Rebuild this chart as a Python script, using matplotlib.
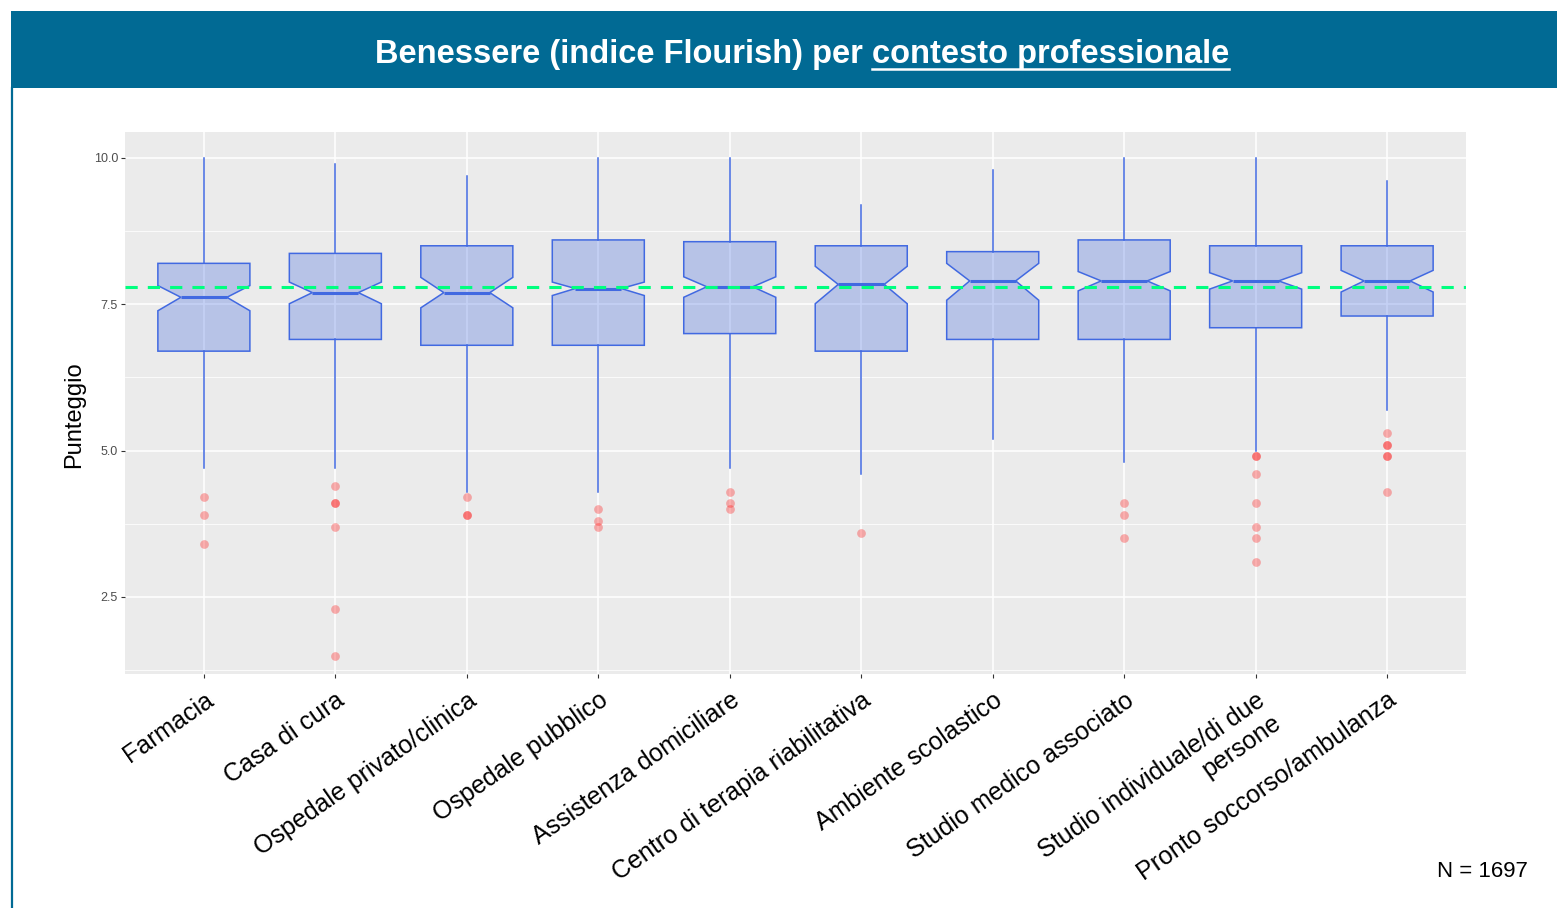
import matplotlib
matplotlib.use("Agg")
import numpy as np
from matplotlib import pyplot as plt
from matplotlib.patches import Rectangle
from matplotlib.lines import Line2D

plt.rcParams['font.family'] = ['Liberation Sans', 'DejaVu Sans']

# values
categories = ["Farmacia", "Casa di cura", "Ospedale privato/clinica", "Ospedale pubblico",
              "Assistenza domiciliare", "Centro di terapia riabilitativa", "Ambiente scolastico",
              "Studio medico associato", "Studio individuale/di due\npersone",
              "Pronto soccorso/ambulanza"]
whishi = [10.0, 9.9, 9.7, 10.0, 10.0, 9.2, 9.8, 10.0, 10.0, 9.6]
q3 = [8.2, 8.37, 8.5, 8.6, 8.57, 8.5, 8.4, 8.6, 8.5, 8.5]
med = [7.62, 7.7, 7.7, 7.77, 7.8, 7.84, 7.9, 7.9, 7.9, 7.9]
q1 = [6.7, 6.9, 6.8, 6.8, 7.0, 6.7, 6.9, 6.9, 7.1, 7.3]
whislo = [4.7, 4.7, 4.3, 4.3, 4.7, 4.6, 5.2, 4.8, 5.0, 5.7]
notch_lo = [7.39, 7.51, 7.44, 7.65, 7.62, 7.51, 7.57, 7.73, 7.76, 7.71]
notch_hi = [7.82, 7.88, 7.96, 7.88, 7.97, 8.15, 8.20, 8.06, 8.04, 8.08]
outliers = [
    [4.2, 3.9, 3.4],
    [4.4, 4.1, 4.1, 3.7, 2.3, 1.5],
    [4.2, 3.9, 3.9],
    [4.0, 3.8, 3.7],
    [4.3, 4.1, 4.0],
    [3.6],
    [],
    [4.1, 3.9, 3.5],
    [4.9, 4.9, 4.6, 4.1, 3.7, 3.5, 3.1],
    [5.3, 5.1, 5.1, 4.9, 4.9, 4.3],
]
overall_mean = 7.8
n_total = 1697

W, H = 1557, 908
fig = plt.figure(figsize=(W / 100, H / 100), dpi=100)

# header bar + left border
hdr_col = '#016a94'
fig.patches.append(Rectangle((11 / W, 1 - 88 / H), 1, 77 / H, transform=fig.transFigure,
                             facecolor=hdr_col, edgecolor='none', zorder=0))
fig.lines.append(Line2D([11.5 / W, 11.5 / W], [0, 1 - 88 / H], transform=fig.transFigure,
                        color=hdr_col, lw=1.6))

ax = fig.add_axes([125 / W, 1 - 674 / H, (1466 - 125) / W, (674 - 132) / H])
ax.set_facecolor('#ebebeb')
for s in ax.spines.values():
    s.set_visible(False)

stats = []
for i in range(len(categories)):
    stats.append(dict(med=med[i], q1=q1[i], q3=q3[i], whislo=whislo[i], whishi=whishi[i],
                      cilo=notch_lo[i], cihi=notch_hi[i], fliers=outliers[i]))

blue = '#4169e1'
ax.bxp(stats, positions=np.arange(1, len(categories) + 1), widths=0.7,
       shownotches=True, patch_artist=True, showcaps=False,
       boxprops=dict(facecolor=(65 / 255, 105 / 255, 225 / 255, 0.3), edgecolor=blue, linewidth=1.1),
       whiskerprops=dict(color=blue, linewidth=1.1),
       medianprops=dict(color=blue, linewidth=2.2),
       flierprops=dict(marker='o', markerfacecolor=(1, 0, 0, 0.3), markeredgecolor='none',
                       markersize=6.3, linestyle='none'),
       zorder=3)

ax.axhline(overall_mean, color='#00ff7f', lw=2.2, ls=(0, (4, 3.3)), zorder=5)

ax.set_xlim(0.4, len(categories) + 0.6)
ax.set_ylim(1.184, 10.444)
ax.set_yticks([2.5, 5.0, 7.5, 10.0])
ax.set_yticklabels(['2.5', '5.0', '7.5', '10.0'])
ax.set_yticks([1.25, 3.75, 6.25, 8.75], minor=True)
ax.set_xticks(np.arange(1, len(categories) + 1))
ax.set_xticklabels(categories)
ax.grid(True, which='major', color='white', lw=1.1, zorder=0)
ax.grid(True, which='minor', axis='y', color='white', lw=0.55, zorder=0)
ax.set_axisbelow(True)
ax.tick_params(axis='both', which='major', length=3, width=0.8, color='#333333')
ax.tick_params(axis='y', which='minor', length=0)
ax.tick_params(axis='y', labelsize=9, labelcolor='#4d4d4d', pad=2)
ax.tick_params(axis='x', labelsize=18, labelcolor='black', pad=7)
plt.setp(ax.get_xticklabels(), rotation=35, ha='right', va='top', rotation_mode='anchor',
         multialignment='right')

ax.set_ylabel('Punteggio', fontsize=17, color='black')
ax.yaxis.set_label_coords((85 - 125) / 1341, (674 - 415) / 542)

fig.text(1528 / W, 1 - 877 / H, f'N = {n_total}', ha='right', va='baseline', fontsize=16)

# title with underlined second part
fig.canvas.draw()
r = fig.canvas.get_renderer()
ty = 1 - 63 / H
t1 = fig.text(0, ty, 'Benessere (indice Flourish) per', color='white', fontsize=23.5,
              fontweight='bold', va='baseline', ha='left')
t2 = fig.text(0, ty, 'contesto professionale', color='white', fontsize=23.5,
              fontweight='bold', va='baseline', ha='left')
w1 = t1.get_window_extent(r).width
w2 = t2.get_window_extent(r).width
sp = 23.5 / 72 * 100 * 0.278
x0 = 802 - (w1 + sp + w2) / 2
t1.set_x(x0 / W)
t2.set_x((x0 + w1 + sp) / W)
fig.lines.append(Line2D([(x0 + w1 + sp) / W, (x0 + w1 + sp + w2) / W], [1 - 69 / H, 1 - 69 / H],
                        transform=fig.transFigure, color='white', lw=1.8))

fig.savefig('out.png', dpi=100)
